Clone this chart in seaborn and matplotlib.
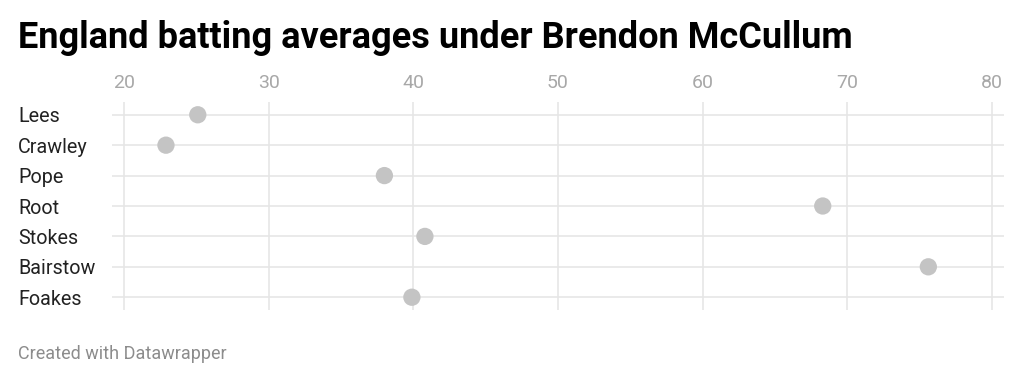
import matplotlib
matplotlib.use("Agg")
import matplotlib.pyplot as plt
import seaborn as sns
import pandas as pd

players = ["Lees", "Crawley", "Pope", "Root", "Stokes", "Bairstow", "Foakes"]
averages = [25.1, 22.9, 38.0, 68.3, 40.8, 75.6, 39.9]
x_ticks = [20, 30, 40, 50, 60, 70, 80]

df = pd.DataFrame({"player": players, "average": averages})

sns.set_style("white")
plt.rcParams["font.family"] = ["Roboto", "DejaVu Sans"]

W, H = 1023, 381
fig = plt.figure(figsize=(W / 100, H / 100), dpi=100)
ax = fig.add_axes([112 / W, 1 - 310 / H, (1004 - 112) / W, (310 - 102) / H])

sns.scatterplot(data=df, x="average", y="player", ax=ax, s=155,
                color="#c4c4c4", edgecolor="none", zorder=3)

ax.set_xlim(19.17, 80.83)
ax.set_ylim(6.42, -0.42)
ax.set_xticks(x_ticks)
ax.xaxis.tick_top()
ax.grid(True, color="#e6e6e6", linewidth=1.2)
ax.set_axisbelow(True)
for s in ax.spines.values():
    s.set_visible(False)
ax.set_xlabel("")
ax.set_ylabel("")
ax.tick_params(axis="x", length=0, pad=7, labelsize=14, labelcolor="#a8a8a8")
ax.tick_params(axis="y", length=0, pad=94 * 0.72, labelsize=14.2, labelcolor="#222222")
for lab in ax.get_yticklabels():
    lab.set_horizontalalignment("left")

fig.text(18 / W, 1 - 48 / H, "England batting averages under Brendon McCullum",
         fontsize=26, fontweight="bold", color="#000000", va="baseline", ha="left")
fig.text(18 / W, 1 - 359 / H, "Created with Datawrapper",
         fontsize=13, color="#8c8c8c", va="baseline", ha="left")

fig.savefig("out.png", dpi=100, facecolor="white")
